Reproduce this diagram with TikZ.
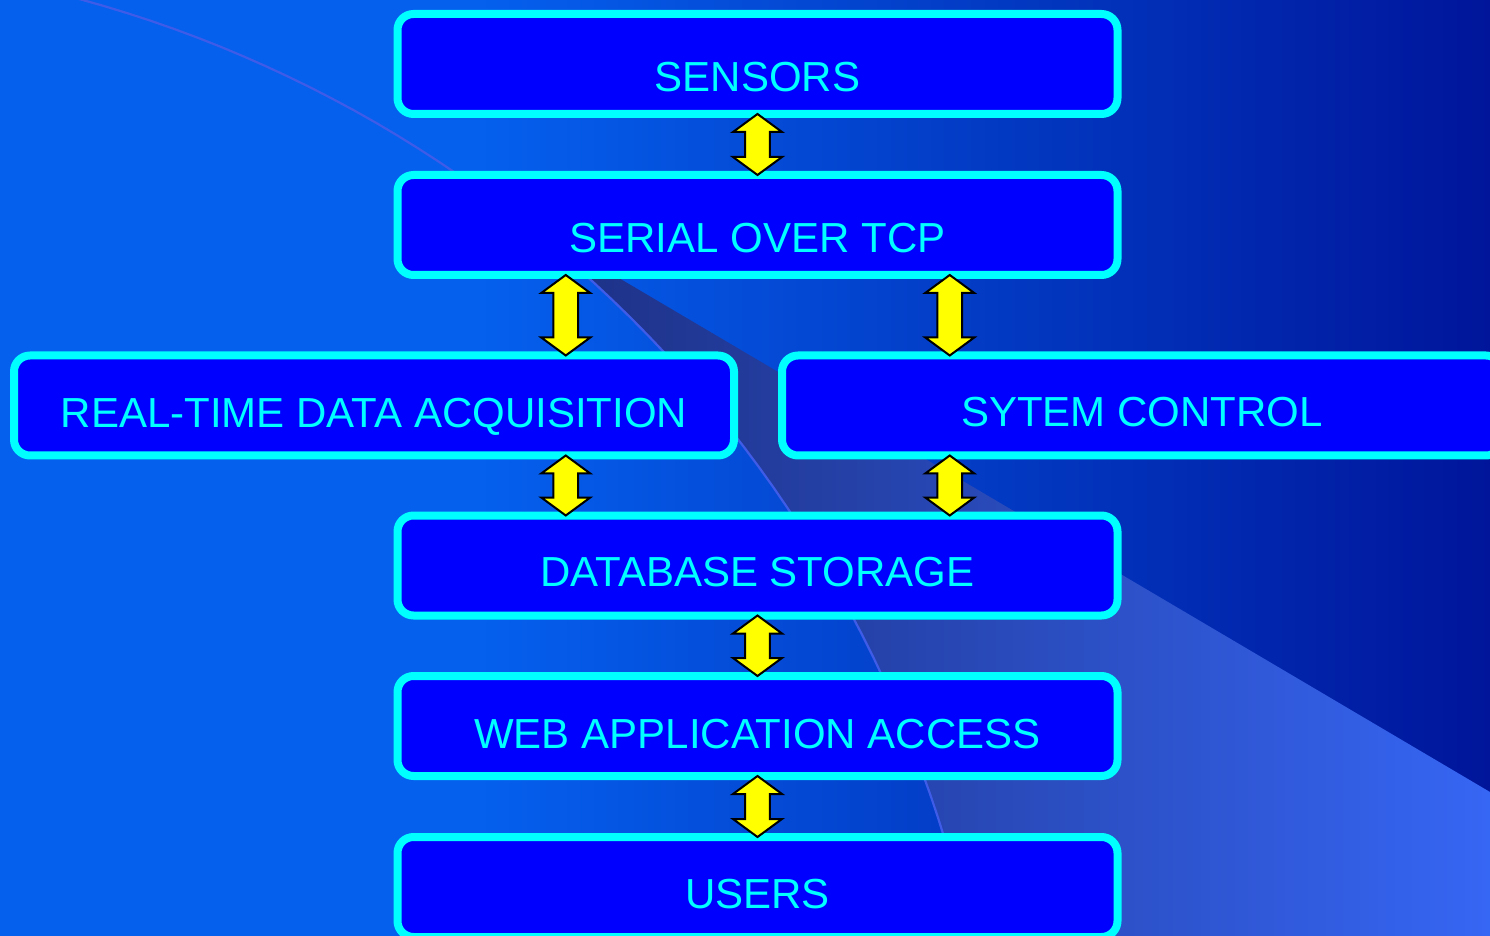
\documentclass[tikz,border=0pt]{standalone}
\usepackage{fontspec}
\setmainfont{Liberation Sans}
\usetikzlibrary{calc}

\definecolor{bgleft}{HTML}{0560EE}
\definecolor{bgright}{HTML}{00159A}
\definecolor{wedgeL}{HTML}{1C2E80}
\definecolor{wedgeM}{HTML}{2C50CC}
\definecolor{wedgeR}{HTML}{3666F4}
\definecolor{arcline}{HTML}{3F5CE8}
\definecolor{boxfill}{HTML}{0000FF}
\definecolor{boxedge}{HTML}{00FFFF}
\definecolor{arrowfill}{HTML}{FFFF00}

\tikzset{
  stage/.style={draw=boxedge, fill=boxfill, line width=4pt, rounded corners=8pt,
    minimum width=360pt, minimum height=50pt, inner sep=0pt, outer sep=0pt},
  lbl/.style={text=boxedge, font=\fontsize{21}{25}\selectfont, anchor=base, inner sep=0pt},
  biarrow/.style={draw=black, fill=arrowfill, line width=1pt, line join=miter},
}

% yellow up-down block arrow between two points (top tip, bottom tip)
\newcommand{\biarr}[2]{%
  \path (#1) coordinate (tA) (#2) coordinate (tB);
  \draw[biarrow] (tA) -- ($(tA)+(24.5,18)$) -- ($(tA)+(12.3,18)$)
    -- ($(tB)+(12.3,-18)$) -- ($(tB)+(24.5,-18)$) -- (tB)
    -- ($(tB)+(-24.5,-18)$) -- ($(tB)+(-12.3,-18)$)
    -- ($(tA)+(-12.3,18)$) -- ($(tA)+(-24.5,18)$) -- cycle;}

\begin{document}
\begin{tikzpicture}[x=0.5pt, y=-0.5pt]
\useasboundingbox (0,0) rectangle (1490,936);
\clip (0,0) rectangle (1490,936);

% background
\fill[bgleft] (0,0) rectangle (480,936);
\shade[left color=bgleft, right color=bgright] (479,0) rectangle (1490,936);

% lighter wedge to the right of the arc
\shade[left color=wedgeL, middle color=wedgeM, right color=wedgeR]
  (1490,792) -- (1490,960)
  -- plot[domain=-10:-52.1, variable=\t, samples=40] ({-249+1248*cos(\t)}, {1203+1248*sin(\t)})
  -- cycle;

% thin arc
\draw[arcline, line width=1.1pt]
  plot[domain=-77:-10, variable=\t, samples=60] ({-249+1248*cos(\t)}, {1203+1248*sin(\t)});

% stages
\node[stage] (sensors) at (757.5,64) {};
\node[stage] (serial)  at (757.5,225) {};
\node[stage] (real)    at (374,405.5) {};
\node[stage] (sytem)   at (1142,405.5) {};
\node[stage] (db)      at (757.5,565.5) {};
\node[stage] (web)     at (757.5,726) {};
\node[stage] (users)   at (757.5,887) {};

\node[lbl] (tsensors) at ($(sensors.center)+(0,28)$) {SENSORS};
\node[lbl] (tserial)  at ($(serial.center)+(0,28)$) {SERIAL OVER TCP};
\node[lbl] (treal)    at ($(real.center)+(0,22.5)$) {REAL-TIME DATA ACQUISITION};
\node[lbl] (tsytem)   at ($(sytem.center)+(0,21.5)$) {SYTEM CONTROL};
\node[lbl] (tdb)      at ($(db.center)+(0,20.5)$) {DATABASE STORAGE};
\node[lbl] (tweb)     at ($(web.center)+(0,22)$) {WEB APPLICATION ACCESS};
\node[lbl] (tusers)   at ($(users.center)+(0,21)$) {USERS};

% connectors
\coordinate (cL) at ($(serial.south west)!.5!(real.north east)$);
\coordinate (cR) at ($(serial.south east)!.5!(sytem.north west)$);
\biarr{sensors.south}{serial.north}
\biarr{cL |- serial.south}{cL |- real.north}
\biarr{cR |- serial.south}{cR |- sytem.north}
\biarr{cL |- real.south}{cL |- db.north}
\biarr{cR |- sytem.south}{cR |- db.north}
\biarr{db.south}{web.north}
\biarr{web.south}{users.north}
\end{tikzpicture}
\end{document}
